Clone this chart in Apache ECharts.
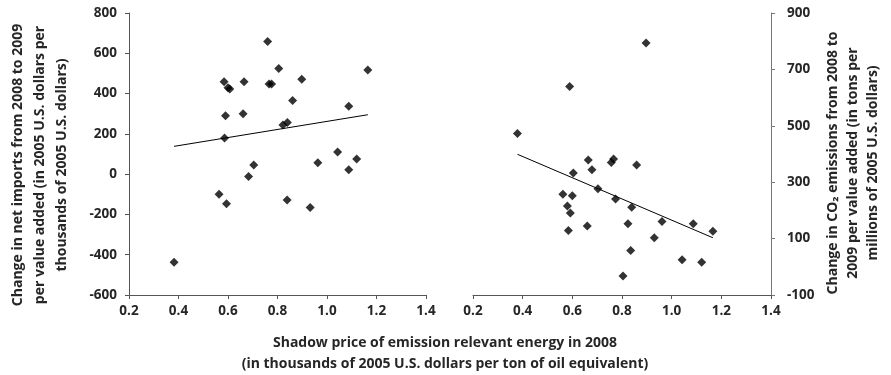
<!DOCTYPE html>
<html>
<head>
<meta charset="utf-8">
<script src="https://cdn.jsdelivr.net/npm/echarts@6/dist/echarts.min.js"></script>
<style>
  html, body { margin: 0; padding: 0; background: #fff; }
  #main { width: 891px; height: 375px; }
</style>
</head>
<body>
<div id="main"></div>
<script>
// shadow price (x) and change in net imports (y) - left panel
var importsX = [0.382, 0.564, 0.594, 0.584, 0.600, 0.607, 0.590, 0.586, 0.665, 0.661,
                0.760, 0.766, 0.776, 0.805, 0.898, 0.861, 0.822, 0.840, 1.165, 1.088,
                0.704, 0.683, 0.839, 0.932, 0.963, 1.043, 1.120, 1.088];
var importsY = [-438, -100, -147, 459, 429, 423, 290, 179, 459, 300,
                658, 448, 448, 524, 471, 366, 244, 256, 517, 337,
                45, -12, -128, -165, 57, 110, 75, 22];
var importsTrendX = [0.382, 1.165];
var importsTrendY = [138, 295];

// shadow price (x) and change in CO2 emissions (y) - right panel
var co2X = [0.379, 0.589, 0.897, 0.664, 0.679, 0.604, 0.757, 0.766, 0.859, 0.703,
            0.562, 0.600, 0.774, 0.580, 0.592, 0.839, 0.584, 0.660, 0.824, 0.961,
            1.087, 1.166, 0.930, 0.835, 1.042, 1.121, 0.804];
var co2Y = [473, 639, 794, 379, 344, 333, 370, 382, 361, 277,
            257, 252, 240, 216, 191, 211, 129, 145, 153, 161,
            153, 126, 103, 58, 25, 16, -33];
var co2TrendX = [0.379, 1.166];
var co2TrendY = [399, 103];

function pairs(xs, ys) {
    return xs.map(function (x, i) { return [x, ys[i]]; });
}

var myChart = echarts.init(document.getElementById('main'));
var font = 'Open Sans';
var textColor = '#262626';

function xAxis(gridIndex) {
    return {
        type: 'value', gridIndex: gridIndex,
        min: 0.2, max: 1.4, interval: 0.2,
        axisLine: { onZero: false, lineStyle: { color: '#555', width: 1 } },
        axisTick: { show: true, length: 4, lineStyle: { color: '#555' } },
        splitLine: { show: false },
        axisLabel: {
            color: textColor, fontFamily: font, fontWeight: 'bold', fontSize: 13.5,
            margin: 9,
            formatter: function (v) { return v.toFixed(1); }
        }
    };
}

var option = {
    animation: false,
    grid: [
        { left: 129, width: 297, top: 13, height: 282 },
        { left: 473, width: 298, top: 13, height: 282 }
    ],
    xAxis: [xAxis(0), xAxis(1)],
    yAxis: [
        {
            type: 'value', gridIndex: 0,
            min: -600, max: 800, interval: 200,
            axisLine: { show: true, lineStyle: { color: '#555' } },
            axisTick: { show: true, length: 4, lineStyle: { color: '#555' } },
            splitLine: { show: false },
            axisLabel: { color: textColor, fontFamily: font, fontWeight: 'bold', fontSize: 13.5, margin: 12 }
        },
        {
            type: 'value', gridIndex: 1, position: 'right',
            min: -100, max: 900, interval: 200,
            axisLine: { show: true, lineStyle: { color: '#777' } },
            axisTick: { show: true, length: 4, lineStyle: { color: '#777' } },
            splitLine: { show: false },
            axisLabel: { color: textColor, fontFamily: font, fontWeight: 'bold', fontSize: 13.5, margin: 16 }
        }
    ],
    series: [
        {
            type: 'scatter', xAxisIndex: 0, yAxisIndex: 0,
            symbol: 'diamond', symbolSize: 9,
            itemStyle: { color: '#000' },
            data: pairs(importsX, importsY)
        },
        {
            type: 'line', xAxisIndex: 0, yAxisIndex: 0,
            symbol: 'none', lineStyle: { color: '#000', width: 1 },
            data: pairs(importsTrendX, importsTrendY)
        },
        {
            type: 'scatter', xAxisIndex: 1, yAxisIndex: 1,
            symbol: 'diamond', symbolSize: 9,
            itemStyle: { color: '#000' },
            data: pairs(co2X, co2Y)
        },
        {
            type: 'line', xAxisIndex: 1, yAxisIndex: 1,
            symbol: 'none', lineStyle: { color: '#000', width: 1 },
            data: pairs(co2TrendX, co2TrendY)
        }
    ],
    graphic: [
        {
            type: 'text', x: 445, y: 343,
            style: {
                text: 'Shadow price of emission relevant energy in 2008',
                fill: textColor, font: 'bold 14px "' + font + '"',
                textAlign: 'center', textVerticalAlign: 'middle'
            }
        },
        {
            type: 'text', x: 445, y: 364,
            style: {
                text: '(in thousands of 2005 U.S. dollars per ton of oil equivalent)',
                fill: textColor, font: 'bold 14px "' + font + '"',
                textAlign: 'center', textVerticalAlign: 'middle'
            }
        },
        {
            type: 'text', x: 40, y: 165, rotation: Math.PI / 2,
            style: {
                text: 'Change in net imports from 2008 to 2009\nper value added (in 2005 U.S. dollars per\nthousands of 2005 U.S. dollars)',
                fill: textColor, font: 'bold 14px "' + font + '"', lineHeight: 22,
                textAlign: 'center', textVerticalAlign: 'middle'
            }
        },
        {
            type: 'text', x: 853, y: 163, rotation: Math.PI / 2,
            style: {
                text: 'Change in CO\u2082 emissions from 2008 to\n2009 per value added (in tons per\nmillions of 2005 U.S. dollars)',
                fill: textColor, font: 'bold 14px "' + font + '"', lineHeight: 20,
                textAlign: 'center', textVerticalAlign: 'middle'
            }
        }
    ]
};
myChart.setOption(option);
</script>
</body>
</html>
